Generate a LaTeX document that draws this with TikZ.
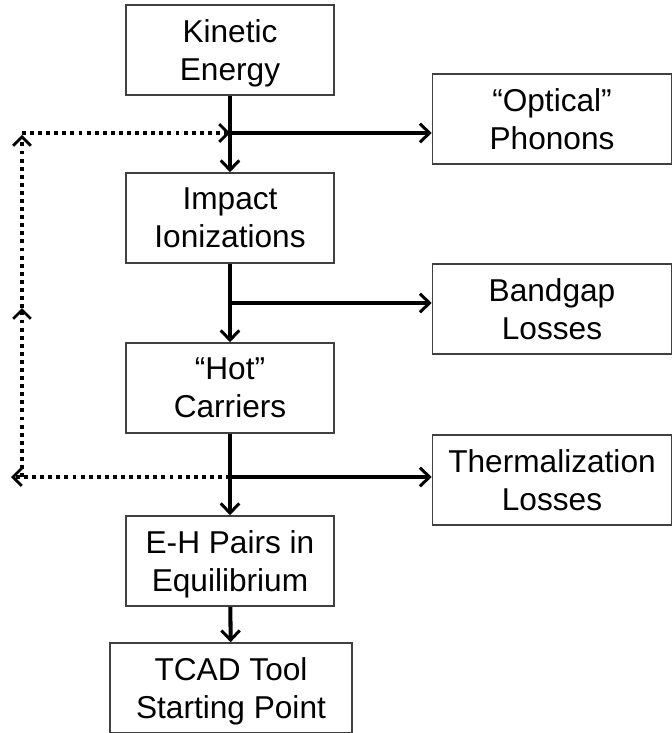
\documentclass[tikz,border=0pt]{standalone}
\usepackage{fontspec}
\setmainfont{Liberation Sans}
\usetikzlibrary{arrows.meta}

\tikzset{
    box/.style={draw=black!75, line width=0.9pt, align=center, inner sep=0pt,
        minimum width=4.16cm, minimum height=1.8cm, text depth=0pt,
        font=\fontsize{18}{21.5}\selectfont},
    sidebox/.style={box, minimum width=4.78cm},
    flow/.style={line width=2.3pt, -{Straight Barb[length=5.5pt,width=10.5pt,line width=1.7pt]}},
    fb/.style={line width=2.2pt, dash pattern=on 2.2pt off 2.4pt,
        -{Straight Barb[length=5pt,width=10pt,line width=1.6pt]}}
}

\begin{document}
\begin{tikzpicture}[x=0.02cm, y=-0.02cm]
    \useasboundingbox (0,0) rectangle (672,733);

    % Main chain of boxes
    \node[box] (kin) at (230,50) {Kinetic\\Energy};
    \node[box] (imp) at (230,218) {Impact\\Ionizations};
    \node[box] (hot) at (230,388) {``Hot''\\Carriers};
    \node[box] (eh) at (230,561) {E-H Pairs in\\Equilibrium};
    \node[box, minimum width=4.84cm] (tcad) at (231,688) {TCAD Tool\\Starting Point};

    % Loss boxes on the right
    \node[sidebox] (phon) at (552,119) {``Optical''\\Phonons};
    \node[sidebox] (gap) at (552,309) {Bandgap\\Losses};
    \node[sidebox] (therm) at (552,480) {Thermalization\\Losses};

    % Branch points on the main line
    \coordinate (j1) at (230,133);
    \coordinate (j2) at (230,303);
    \coordinate (j3) at (230,477);

    % Feedback loop corners
    \coordinate (fbl) at (11,477);
    \coordinate (fbb) at (22,477);
    \coordinate (fbm) at (22,308);
    \coordinate (fbc) at (22,135);
    \coordinate (fbt) at (22,133);

    % Solid arrows down the chain
    \draw[flow] (kin) -- (imp);
    \draw[flow] (imp) -- (hot);
    \draw[flow] (hot) -- (eh);
    \draw[flow] (eh) -- (tcad);

    % Branches to the losses
    \draw[flow] (j1) -- (j1 -| phon.west);
    \draw[flow] (j2) -- (j2 -| gap.west);
    \draw[flow] (j3) -- (j3 -| therm.west);

    % Dotted feedback
    \draw[fb] (j3) -- (fbl);
    \draw[fb] (fbb) -- (fbm);
    \draw[fb] (fbm) -- (fbc);
    \draw[fb] (fbt) -- (j1);
\end{tikzpicture}
\end{document}
